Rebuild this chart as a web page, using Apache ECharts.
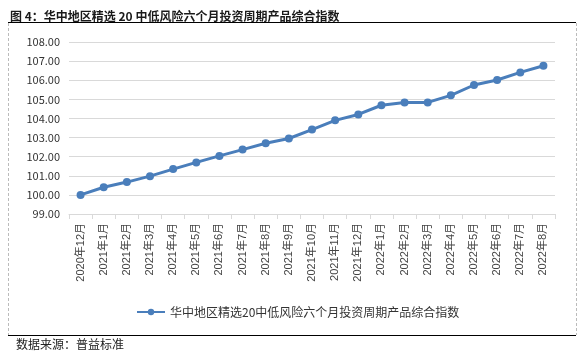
<!DOCTYPE html>
<html><head><meta charset="utf-8">
<script src="https://cdn.jsdelivr.net/npm/echarts@6/dist/echarts.min.js"></script>
<style>html,body{margin:0;padding:0;background:#fff}#c{width:587px;height:357px}</style>
</head><body><div id="c"></div>
<script>
const categories = ['2020年12月','2021年1月','2021年2月','2021年3月','2021年4月','2021年5月','2021年6月','2021年7月','2021年8月','2021年9月','2021年10月','2021年11月','2021年12月','2022年1月','2022年2月','2022年3月','2022年4月','2022年5月','2022年6月','2022年7月','2022年8月'];
const seriesName = '华中地区精选20中低风险六个月投资周期产品综合指数';
const values = [100.00,100.40,100.67,100.98,101.35,101.70,102.04,102.37,102.70,102.95,103.42,103.90,104.21,104.69,104.84,104.84,105.21,105.75,106.01,106.41,106.76];
const titleText = '图 4：华中地区精选 20 中低风险六个月投资周期产品综合指数';
const sourceText = '数据来源：普益标准';

const chart = echarts.init(document.getElementById('c'), null, {renderer:'canvas'});
const font = '"Noto Sans CJK SC", sans-serif';
const latinFont = '"Liberation Sans", "Noto Sans CJK SC", sans-serif';
chart.setOption({
  animation:false,
  title:{text:titleText,left:5,top:5,textStyle:{fontSize:12,fontWeight:'bold',color:'#1a1a1a',fontFamily:font}},
  grid:{left:69,right:32,top:42,bottom:143,containLabel:false},
  legend:{data:[seriesName],left:131,top:301,itemWidth:28,itemHeight:8,itemGap:4,
    textStyle:{fontSize:12,color:'#333',fontFamily:font}},
  xAxis:{type:'category',data:categories,boundaryGap:true,
    axisLine:{lineStyle:{color:'#d9d9d9'}},
    axisTick:{show:true,length:5,lineStyle:{color:'#d9d9d9'}},
    axisLabel:{rotate:90,fontSize:11,color:'#444',interval:0,margin:9,fontFamily:latinFont}},
  yAxis:{type:'value',min:99,max:108,interval:1,
    axisLine:{show:false},axisTick:{show:false},
    splitLine:{lineStyle:{color:'#d9d9d9',width:1}},
    axisLabel:{fontSize:11,color:'#333',margin:9,fontFamily:font,formatter:v=>v.toFixed(2)}},
  series:[{name:seriesName,type:'line',data:values,symbol:'circle',symbolSize:8,
    lineStyle:{color:'#4a7ebb',width:3},itemStyle:{color:'#4a7ebb'}}],
  graphic:[
    {type:'line',shape:{x1:8,y1:22.5,x2:576,y2:22.5},style:{stroke:'#000',lineWidth:1}},
    {type:'line',shape:{x1:8,y1:335.5,x2:576,y2:335.5},style:{stroke:'#000',lineWidth:1}},
    {type:'line',shape:{x1:8.5,y1:23,x2:8.5,y2:335},style:{stroke:'#bbb',lineWidth:1,lineDash:[3,2]}},
    {type:'line',shape:{x1:576.5,y1:23,x2:576.5,y2:335},style:{stroke:'#bbb',lineWidth:1,lineDash:[3,2]}},
    {type:'text',left:16,top:338,style:{text:sourceText,fontSize:12,fill:'#222',fontFamily:font}}
  ]
});
</script></body></html>
